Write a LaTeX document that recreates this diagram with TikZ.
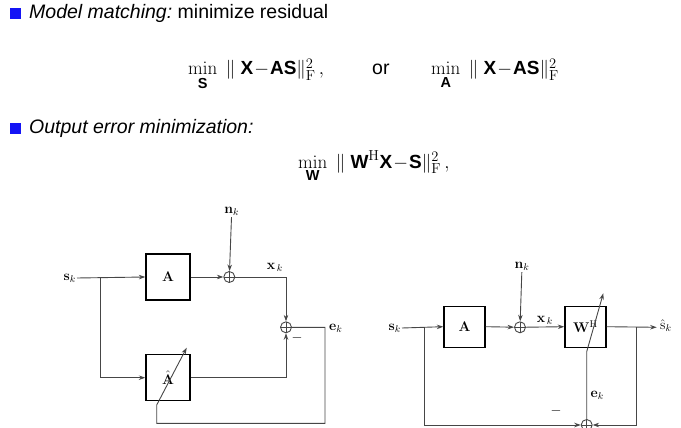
\documentclass[tikz,border=0pt]{standalone}
\usepackage{fix-cm}
\usepackage{amsmath}
\usepackage[no-math]{fontspec}
\setmainfont{Liberation Sans}
\usetikzlibrary{arrows.meta}
\DeclareMathSizes{19}{19}{14.5}{11}
\definecolor{linegray}{RGB}{70,70,70}
\definecolor{bulletblue}{RGB}{20,20,245}
\newcommand{\bsf}[1]{\text{\bfseries #1}}
\begin{document}
\begin{tikzpicture}[x=1pt,y=-1pt,
  bigtext/.style={font=\fontsize{19.5}{23}\selectfont, inner sep=0pt, anchor=base west},
  eqtext/.style={font=\fontsize{19}{23}\selectfont, inner sep=0pt, anchor=base west},
  bul/.style={fill=bulletblue, draw=none},
  lbl/.style={font=\fontsize{14}{16}\selectfont, inner sep=1pt},
  blkA/.style={draw=black, line width=1.4pt, minimum width=44pt, minimum height=46pt, inner sep=0pt, font=\fontsize{14}{16}\selectfont},
  blkB/.style={draw=black, line width=1.4pt, minimum width=41pt, minimum height=41pt, inner sep=0pt, font=\fontsize{14}{16}\selectfont},
  sumn/.style={circle, draw=linegray, line width=0.9pt, minimum size=11pt, inner sep=0pt,
    path picture={\draw[linegray, line width=0.9pt] (path picture bounding box.north) -- (path picture bounding box.south)
      (path picture bounding box.west) -- (path picture bounding box.east);}},
  con/.style={draw=linegray, line width=0.9pt},
  arr/.style={con, -{Stealth[length=6.5pt,width=4.5pt]}}
]
\useasboundingbox (0,0) rectangle (681,428);

% header text
\path[bul] (10,8) rectangle (21,19);
\node[bigtext] (t1) at (29,18.3) {\itshape Model matching:\upshape\ minimize residual};
\node[eqtext] (eq1) at (188,75) {$\min\limits_{\bsf{S}}\ \|\;\bsf{X}\!-\!\bsf{AS}\|_{\mathrm{F}}^{2}\,,$};
\node[bigtext] (or) at (372,75) {or};
\node[eqtext] (eq2) at (431,75) {$\min\limits_{\bsf{A}}\ \|\;\bsf{X}\!-\!\bsf{AS}\|_{\mathrm{F}}^{2}$};
\path[bul] (10,123) rectangle (21,134);
\node[bigtext] (t2) at (29,133) {\itshape Output error minimization:};
\node[eqtext] (eq3) at (298,168) {$\min\limits_{\bsf{W}}\ \|\;\bsf{W}^{\mathrm{H}}\bsf{X}\!-\!\bsf{S}\|_{\mathrm{F}}^{2}\,,$};

% left diagram
\node[lbl, anchor=east] (sk1) at (77,278) {$\mathbf{s}_k$};
\coordinate (b1) at (100.7,277);
\node[blkA] (A1) at (168,277) {$\mathbf{A}$};
\node[blkA] (Ah1) at (168,377.7) {$\hat{\mathbf{A}}$};
\node[sumn] (s1) at (229.3,277) {};
\node[lbl] (nk1) at (231.7,211.7) {$\mathbf{n}_k$};
\node[sumn] (s2) at (286,327.3) {};
\node[lbl] (xk1) at (275,267.7) {$\mathbf{x}_{\,k}$};
\node[lbl, anchor=west] (ek1) at (328,328) {$\mathbf{e}_k$};
\node[lbl] (m1) at (297,337.7) {$-$};
\coordinate (c1) at (325,327.3);
\coordinate (c2) at (325,423.3);
\coordinate (c3) at (156.7,423.3);
\coordinate (c4) at (156.7,405);
\coordinate (c5) at (186.7,347.7);

\draw[arr] (sk1.east) -- (A1.west);
\draw[arr] (b1) |- (Ah1.west);
\draw[arr] (A1.east) -- (s1);
\draw[arr] (nk1) -- (s1);
\draw[arr] (s1) -| (s2);
\draw[arr] (Ah1.east) -| (s2);
\draw[arr] (s2) -- (c1) -- (c2) -- (c3) -- (c4) -- (c5);

% right diagram
\node[lbl, anchor=east] (sk2) at (402,328) {$\mathbf{s}_k$};
\coordinate (b2) at (424,327.3);
\node[blkB] (A2) at (464.5,326.7) {$\mathbf{A}$};
\node[sumn] (s3) at (520,327.3) {};
\node[lbl] (nk2) at (522,266.7) {$\mathbf{n}_k$};
\node[blkB] (W) at (585.5,326.7) {$\mathbf{W}^{\mathrm{H}}$};
\node[lbl] (xk2) at (545,320) {$\mathbf{x}_{\,k}$};
\coordinate (out) at (656.7,327.3);
\node[lbl, anchor=west] (shk) at (659,326) {$\hat{\mathrm{s}}_k$};
\coordinate (b3) at (636.7,327.3);
\node[sumn] (s4) at (586.7,425) {};
\coordinate (d1) at (586.7,351.7);
\coordinate (d2) at (603.3,293.3);
\node[lbl] (ek2) at (597.3,395) {$\mathbf{e}_k$};
\node[lbl] (m2) at (556,410.7) {$-$};

\draw[arr] (sk2.east) -- (A2.west);
\draw[arr] (A2.east) -- (s3);
\draw[arr] (nk2) -- (s3);
\draw[arr] (s3) -- (W.west);
\draw[arr] (W.east) -- (out);
\draw[arr] (b2) |- (s4);
\draw[arr] (b3) |- (s4);
\draw[arr] (s4) -- (d1) -- (d2);
\end{tikzpicture}
\end{document}
